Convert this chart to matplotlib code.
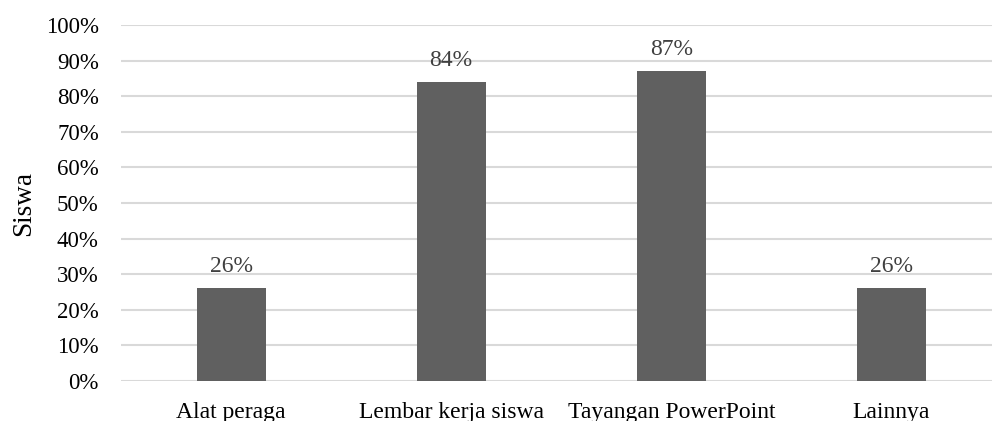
import matplotlib
matplotlib.use("Agg")
import matplotlib.pyplot as plt
from matplotlib.ticker import FuncFormatter, MultipleLocator

categories = ["Alat peraga", "Lembar kerja siswa", "Tayangan PowerPoint", "Lainnya"]
values = [26, 84, 87, 26]
value_labels = ["26%", "84%", "87%", "26%"]

plt.rcParams["font.family"] = ["Liberation Serif", "DejaVu Serif"]

fig = plt.figure(figsize=(9.92, 4.21), dpi=100)
ax = fig.add_axes([121 / 992, 40 / 421, 880.5 / 992, 356 / 421])

x = range(len(categories))
bars = ax.bar(x, values, width=0.314, color="#606060", zorder=3)

for rect, lab in zip(bars, value_labels):
    ax.annotate(lab, (rect.get_x() + rect.get_width() / 2, rect.get_height()),
                xytext=(0, 8), textcoords="offset points", ha="center", va="bottom",
                fontsize=17, color="#404040")

ax.set_xlim(-0.5, len(categories) - 0.5)
ax.set_ylim(0, 100)
ax.yaxis.set_major_locator(MultipleLocator(10))
ax.yaxis.set_major_formatter(FuncFormatter(lambda v, p: f"{v:.0f}%"))
ax.set_xticks(list(x))
ax.set_xticklabels(categories)
ax.tick_params(axis="both", length=0, colors="black")
ax.tick_params(axis="x", pad=15, labelsize=17)
ax.tick_params(axis="y", pad=16, labelsize=16.5)

ax.grid(axis="y", color="#d9d9d9", linewidth=1.5, zorder=0)
for s in ax.spines.values():
    s.set_visible(False)

ax.set_ylabel("Siswa", fontsize=19.5, labelpad=7)

fig.savefig("out.png", dpi=100)
